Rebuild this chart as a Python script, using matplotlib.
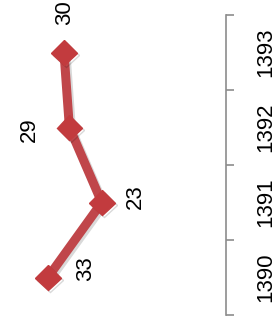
import matplotlib.pyplot as plt
import matplotlib.patheffects as pe

plt.rcParams["font.family"] = ["Liberation Sans", "DejaVu Sans"]

years = ["1390", "1391", "1392", "1393"]
values = [33, 23, 29, 30]
# label offsets in points (x, y)
label_offsets = [(27, 6.5), (24, 4.3), (-29, -1.5), (0.7, 29)]

red = "#C0464A"
grey = "#8C8C8C"

fig = plt.figure(figsize=(2.76, 3.22), dpi=100)
ax = fig.add_axes([10 / 276, 7 / 322, 216 / 276, 300 / 322])

pos = list(range(len(years)))
shadow = [pe.SimpleLineShadow(offset=(1.5, -1.5), alpha=0.15, shadow_color="black"), pe.Normal()]
ax.plot(values, pos, color=red, linewidth=6.5, solid_capstyle="butt",
        marker="D", markersize=13, markerfacecolor="#C23B3E", markeredgecolor="#C23B3E",
        path_effects=shadow, zorder=3)

for v, p, off in zip(values, pos, label_offsets):
    ax.annotate(str(v), (v, p), xytext=off, textcoords="offset points",
                rotation=90, ha="center", va="center", fontsize=16, color="black")

ax.set_xlim(40, 0)
ax.set_ylim(-0.5, len(years) - 0.5)

for side in ["top", "left", "bottom"]:
    ax.spines[side].set_visible(False)
ax.spines["right"].set_color(grey)
ax.spines["right"].set_linewidth(1.2)

ax.set_xticks([])
ax.yaxis.tick_right()
ax.set_yticks([p - 0.5 for p in pos] + [len(years) - 0.5])
ax.set_yticklabels([])
ax.tick_params(axis="y", which="major", direction="out", length=6, width=1.2, color=grey)
ax.set_yticks(pos, minor=True)
ax.set_yticklabels(years, minor=True, rotation=90, va="center", fontsize=16)
ax.tick_params(axis="y", which="minor", length=0, pad=21)

fig.savefig("out.png", dpi=100)
